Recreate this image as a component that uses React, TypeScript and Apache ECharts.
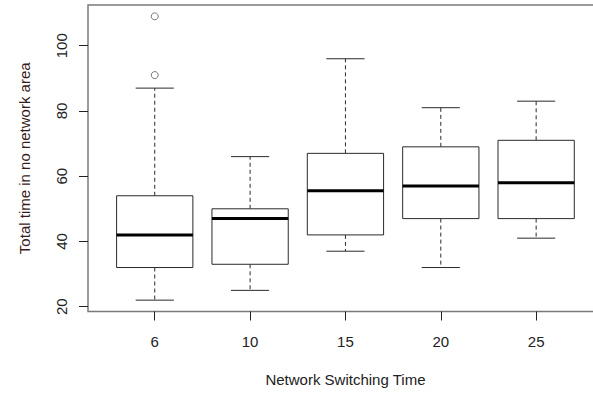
import React, { useEffect, useRef } from "react";
import * as echarts from "echarts";

const categories = ["6", "10", "15", "20", "25"];
const whiskerLow = [22, 25, 37, 32, 41];
const q1 = [32, 33, 42, 47, 47];
const median = [42, 47, 55.5, 57, 58];
const q3 = [54, 50, 67, 69, 71];
const whiskerHigh = [87, 66, 96, 81, 83];
const outlierGroup = [1, 1];
const outlierValue = [91, 109];
const yTicks = [20, 40, 60, 80, 100];

const FONT = "'Liberation Sans', Arial, sans-serif";

export default function App() {
  const ref = useRef<HTMLDivElement>(null);
  useEffect(() => {
    if (!ref.current) return;
    const chart = echarts.init(ref.current, null, { renderer: "svg" });
    const boxData = categories.map((_, i) => [
      i + 1,
      whiskerLow[i],
      q1[i],
      median[i],
      q3[i],
      whiskerHigh[i],
    ]);
    const outData = outlierGroup.map((g, i) => [g, outlierValue[i]]);
    const stroke = "#2a2a2a";
    chart.setOption({
      animation: false,
      grid: {
        left: 88,
        top: 5,
        width: 514.9,
        height: 306.5,
        outerBoundsMode: "none",
        containLabel: false,
        show: true,
        borderColor: "#7a7a7a",
        borderWidth: 1.5,
        backgroundColor: "transparent",
      },
      xAxis: {
        type: "value",
        min: 0.3,
        max: 5.7,
        splitLine: { show: false },
        axisLine: { show: false },
        axisTick: {
          show: true,
          length: 9,
          customValues: [1, 2, 3, 4, 5],
          lineStyle: { color: "#222", width: 1 },
        },
        axisLabel: {
          customValues: [1, 2, 3, 4, 5],
          formatter: (v: number) => categories[Math.round(v) - 1] ?? "",
          color: "#222",
          fontSize: 15,
          fontFamily: FONT,
          margin: 22,
        },
        name: "Network Switching Time",
        nameLocation: "middle",
        nameGap: 60,
        nameTextStyle: { color: "#222", fontSize: 15, fontFamily: FONT },
      },
      yAxis: {
        type: "value",
        min: 18.52,
        max: 112.48,
        splitLine: { show: false },
        axisLine: { show: false },
        axisTick: {
          show: true,
          length: 9,
          customValues: yTicks,
          lineStyle: { color: "#222", width: 1 },
        },
        axisLabel: {
          customValues: yTicks,
          rotate: 90,
          color: "#222",
          fontSize: 15,
          fontFamily: FONT,
          margin: 19,
        },
        name: "Total time in no network area",
        nameLocation: "middle",
        nameGap: 56,
        nameRotate: 90,
        nameTextStyle: { color: "#3a1c1c", fontSize: 15, fontFamily: FONT },
      },
      series: [
        {
          type: "custom",
          data: boxData,
          encode: { x: 0, y: [1, 2, 3, 4, 5] },
          renderItem: (params: any, api: any) => {
            const x = api.value(0);
            const pLo = api.coord([x, api.value(1)]);
            const pQ1 = api.coord([x, api.value(2)]);
            const pMed = api.coord([x, api.value(3)]);
            const pQ3 = api.coord([x, api.value(4)]);
            const pHi = api.coord([x, api.value(5)]);
            const hw = api.size([0.8, 0])[0] / 2;
            const cx = pMed[0];
            const dash = { stroke, lineWidth: 1, lineDash: [4, 3] };
            return {
              type: "group",
              children: [
                {
                  type: "line",
                  shape: { x1: cx, y1: pQ3[1], x2: cx, y2: pHi[1] },
                  style: dash,
                },
                {
                  type: "line",
                  shape: { x1: cx, y1: pQ1[1], x2: cx, y2: pLo[1] },
                  style: dash,
                },
                {
                  type: "line",
                  shape: { x1: cx - hw / 2, y1: pHi[1], x2: cx + hw / 2, y2: pHi[1] },
                  style: { stroke, lineWidth: 1 },
                },
                {
                  type: "line",
                  shape: { x1: cx - hw / 2, y1: pLo[1], x2: cx + hw / 2, y2: pLo[1] },
                  style: { stroke, lineWidth: 1 },
                },
                {
                  type: "rect",
                  shape: { x: cx - hw, y: pQ3[1], width: hw * 2, height: pQ1[1] - pQ3[1] },
                  style: { fill: "#fff", stroke, lineWidth: 1 },
                },
                {
                  type: "line",
                  shape: { x1: cx - hw, y1: pMed[1], x2: cx + hw, y2: pMed[1] },
                  style: { stroke: "#000", lineWidth: 3 },
                },
              ],
            };
          },
        },
        {
          type: "scatter",
          data: outData,
          symbol: "circle",
          symbolSize: 7,
          z: 5,
          itemStyle: { color: "#fff", borderColor: "#555", borderWidth: 1 },
        },
      ],
    });
    return () => chart.dispose();
  }, []);
  return (
    <div
      ref={ref}
      style={{ position: "fixed", left: 0, top: 0, width: 593, height: 398, background: "#fff" }}
    />
  );
}
